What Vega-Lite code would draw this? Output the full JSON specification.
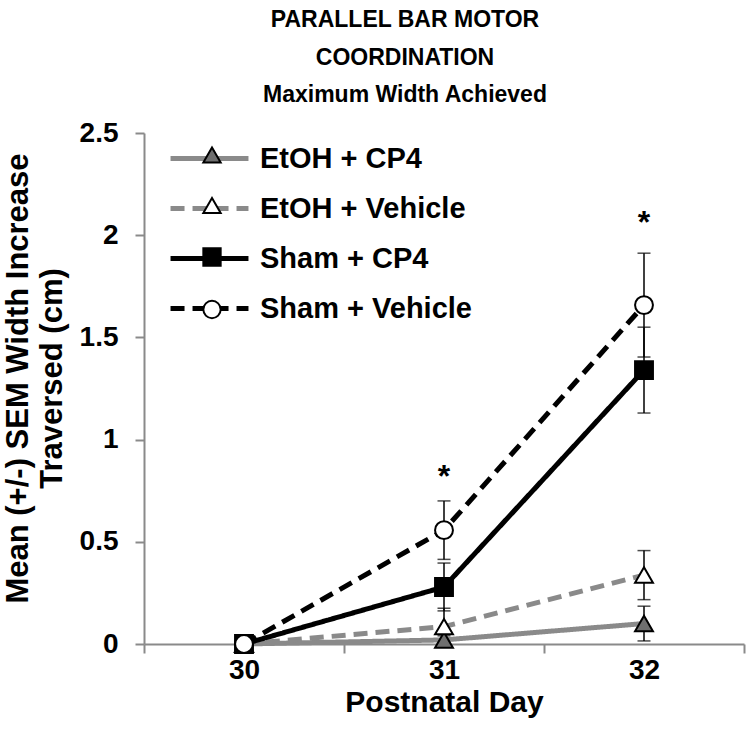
{
  "$schema": "https://vega.github.io/schema/vega-lite/v6.json",
  "width": 600,
  "height": 511,
  "autosize": "none",
  "padding": {"left": 144, "top": 133, "right": 6, "bottom": 85},
  "background": "white",
  "config": {"view": {"stroke": null}, "font": "Liberation Sans"},
  "title": {
    "text": ["PARALLEL BAR MOTOR", "COORDINATION", "Maximum Width Achieved"],
    "font": "Liberation Sans", "fontSize": 23, "fontWeight": "bold", "color": "black",
    "lineHeight": 37.5, "anchor": "middle", "dx": -39, "offset": 12
  },
  "datasets": {
    "main": [
      {"day": 30, "group": "EtOH + CP4", "mean": 0, "sem": 0},
      {"day": 31, "group": "EtOH + CP4", "mean": 0.02, "sem": 0.02},
      {"day": 32, "group": "EtOH + CP4", "mean": 0.1, "sem": 0.085},
      {"day": 30, "group": "EtOH + Vehicle", "mean": 0, "sem": 0},
      {"day": 31, "group": "EtOH + Vehicle", "mean": 0.085, "sem": 0.09},
      {"day": 32, "group": "EtOH + Vehicle", "mean": 0.337, "sem": 0.12},
      {"day": 30, "group": "Sham + CP4", "mean": 0, "sem": 0},
      {"day": 31, "group": "Sham + CP4", "mean": 0.279, "sem": 0.117},
      {"day": 32, "group": "Sham + CP4", "mean": 1.34, "sem": 0.21},
      {"day": 30, "group": "Sham + Vehicle", "mean": 0, "sem": 0},
      {"day": 31, "group": "Sham + Vehicle", "mean": 0.557, "sem": 0.143},
      {"day": 32, "group": "Sham + Vehicle", "mean": 1.658, "sem": 0.254}
    ],
    "stars": [
      {"day": 31, "mean": 0.77, "label": "*"},
      {"day": 32, "mean": 2.01, "label": "*"}
    ]
  },
  "data": {"name": "main"},
  "encoding": {
    "x": {
      "field": "day", "type": "ordinal",
      "scale": {"type": "band", "paddingInner": 0, "paddingOuter": 0},
      "axis": {
        "title": "Postnatal Day", "labelAngle": 0, "tickBand": "extent",
        "tickSize": 9, "tickWidth": 2, "tickColor": "#8a8a8a",
        "domainColor": "#8a8a8a", "domainWidth": 2,
        "labelFont": "Liberation Sans", "labelFontSize": 28, "labelFontWeight": "bold", "labelColor": "black", "labelPadding": 3,
        "titleFont": "Liberation Sans", "titleFontSize": 30, "titleFontWeight": "bold", "titleColor": "black", "titlePadding": 3,
        "grid": false
      }
    },
    "y": {
      "field": "mean", "type": "quantitative",
      "scale": {"domain": [0, 2.5], "nice": false},
      "axis": {
        "values": [0, 0.5, 1, 1.5, 2, 2.5], "format": ".1~f",
        "title": ["Mean (+/-) SEM  Width Increase", "Traversed (cm)"],
        "tickSize": 9, "tickWidth": 2, "tickColor": "#8a8a8a",
        "domainColor": "#8a8a8a", "domainWidth": 2,
        "labelFont": "Liberation Sans", "labelFontSize": 28, "labelFontWeight": "bold", "labelColor": "black", "labelPadding": 17,
        "titleFont": "Liberation Sans", "titleFontSize": 31, "titleFontWeight": "bold", "titleColor": "black", "titlePadding": 11, "titleLineHeight": 34,
        "titleY": 245,
        "grid": false
      }
    }
  },
  "layer": [
    {
      "mark": {
        "type": "errorbar", "color": "black",
        "ticks": {"size": 13, "thickness": 1.5, "color": "black"},
        "rule": {"strokeWidth": 1.5, "color": "black"}
      },
      "encoding": {
        "yError": {"field": "sem"},
        "detail": {"field": "group"}
      }
    },
    {
      "mark": {"type": "line", "strokeWidth": 5, "strokeCap": "butt"},
      "encoding": {
        "color": {
          "field": "group", "type": "nominal",
          "scale": {"domain": ["EtOH + CP4", "EtOH + Vehicle", "Sham + CP4", "Sham + Vehicle"], "range": ["#8a8a8a", "#8a8a8a", "black", "black"]},
          "legend": {
            "orient": "none", "legendX": 51, "legendY": 11, "title": null, "padding": 0,
            "symbolType": "M-5,0H5", "symbolSize": 243, "symbolStrokeWidth": 5,
            "labelFont": "Liberation Sans", "labelFontSize": 29, "labelFontWeight": "bold", "labelColor": "black",
            "labelOffset": 36, "labelLimit": 400, "rowPadding": 20
          }
        },
        "strokeDash": {
          "field": "group", "type": "nominal",
          "scale": {"domain": ["EtOH + CP4", "EtOH + Vehicle", "Sham + CP4", "Sham + Vehicle"], "range": [[1, 0], [14, 8], [1, 0], [14, 8]]},
          "legend": {
            "orient": "none", "legendX": 51, "legendY": 11, "title": null, "padding": 0,
            "symbolType": "M-5,0H5", "symbolSize": 243, "symbolStrokeWidth": 5,
            "labelFont": "Liberation Sans", "labelFontSize": 29, "labelFontWeight": "bold", "labelColor": "black",
            "labelOffset": 36, "labelLimit": 400, "rowPadding": 20
          }
        }
      }
    },
    {
      "mark": {"type": "point", "filled": true, "size": 320, "strokeWidth": 2, "opacity": 1},
      "encoding": {
        "shape": {
          "field": "group", "type": "nominal",
          "scale": {"range": ["triangle-up", "triangle-up", "square", "circle"]},
          "legend": {
            "orient": "none", "legendX": 58, "legendY": 12, "title": null, "padding": 0,
            "symbolSize": 300, "symbolStrokeWidth": 2,
            "labelFont": "Liberation Sans", "labelFontSize": 1, "labelOpacity": 0, "labelOffset": 0,
            "rowPadding": 26.5
          }
        },
        "fill": {
          "field": "group", "type": "nominal",
          "scale": {"range": ["#6f6f6f", "white", "black", "white"]},
          "legend": {
            "orient": "none", "legendX": 58, "legendY": 12, "title": null, "padding": 0,
            "symbolSize": 300, "symbolStrokeWidth": 2,
            "labelFont": "Liberation Sans", "labelFontSize": 1, "labelOpacity": 0, "labelOffset": 0,
            "rowPadding": 26.5
          }
        },
        "stroke": {
          "field": "group", "type": "nominal",
          "scale": {"range": ["black", "black", "black", "black"]},
          "legend": {
            "orient": "none", "legendX": 58, "legendY": 12, "title": null, "padding": 0,
            "symbolSize": 300, "symbolStrokeWidth": 2,
            "labelFont": "Liberation Sans", "labelFontSize": 1, "labelOpacity": 0, "labelOffset": 0,
            "rowPadding": 26.5
          }
        }
      }
    },
    {
      "data": {"name": "stars"},
      "mark": {"type": "text", "font": "Liberation Sans", "fontSize": 32, "fontWeight": "bold", "baseline": "alphabetic", "color": "black"},
      "encoding": {"text": {"field": "label"}}
    }
  ]
}
